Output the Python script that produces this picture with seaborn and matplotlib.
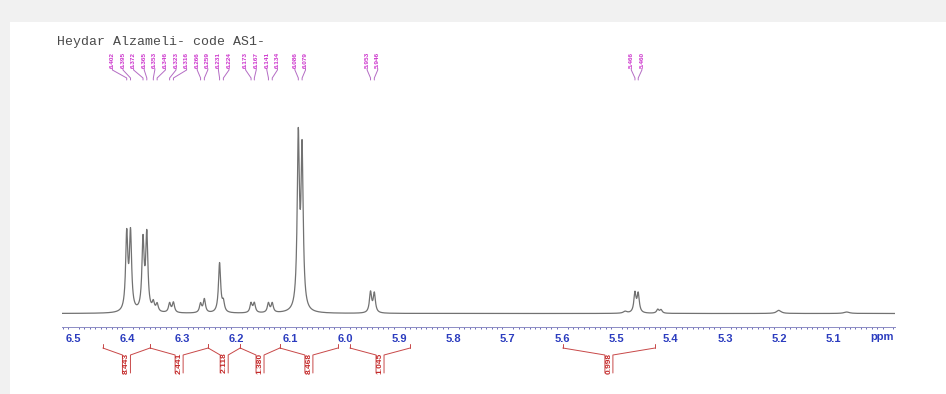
import numpy as np
import pandas as pd
import matplotlib
matplotlib.use("Agg")
import matplotlib.pyplot as plt
import seaborn as sns
from matplotlib.ticker import FixedLocator, MultipleLocator

# ---------------------------------------------------------------- data
title_text = "Heydar Alzameli- code AS1-"

# resonances: position (ppm), observed height (tallest = 100), half width (ppm)
peak_ppm = [6.402, 6.395, 6.372, 6.365, 6.353, 6.346, 6.323, 6.316,
            6.266, 6.259, 6.231, 6.224, 6.173, 6.167, 6.141, 6.134,
            6.086, 6.079, 5.953, 5.946, 5.484, 5.466, 5.460, 5.424,
            5.418, 5.201, 5.076]
peak_height = [45.7, 46.2, 42.5, 45.2, 7.5, 5.9, 6.0, 6.3,
               5.9, 8.1, 27.4, 8.1, 6.1, 6.1, 6.0, 6.0,
               100.0, 93.5, 12.2, 11.6, 1.3, 12.0, 11.6, 2.4,
               2.2, 1.7, 0.8]
peak_hw = [0.0024] * 20 + [0.004, 0.0024, 0.0024, 0.0026,
                           0.0026, 0.005, 0.006]

# peak-picking labels
pick_labels = ["6.402", "6.395", "6.372", "6.365", "6.353", "6.346",
               "6.323", "6.316", "6.266", "6.259", "6.231", "6.224",
               "6.173", "6.167", "6.141", "6.134", "6.086", "6.079",
               "5.953", "5.946", "5.466", "5.460"]

# integration regions (ppm) and integral values
int_left = [6.446, 6.359, 6.252, 6.193, 6.120, 5.991, 5.599]
int_right = [6.359, 6.252, 6.193, 6.120, 6.013, 5.880, 5.429]
int_values = ["8.443", "2.441", "2.118", "1.380", "8.468", "1.045", "0.998"]

tick_values = [6.5, 6.4, 6.3, 6.2, 6.1, 6.0, 5.9, 5.8, 5.7, 5.6, 5.5,
               5.4, 5.3, 5.2, 5.1, 5.0]
tick_labels = ["6.5", "6.4", "6.3", "6.2", "6.1", "6.0", "5.9", "5.8",
               "5.7", "5.6", "5.5", "5.4", "5.3", "5.2", "5.1", ""]

# ---------------------------------------------------------------- spectrum
ppm_grid = np.arange(4.985, 6.525, 0.0002)
pos = np.array(peak_ppm)
hw = np.array(peak_hw)


def lorentz(x, p, w):
    return 1.0 / (1.0 + ((x - p) / w) ** 2)


# amplitudes chosen so the summed trace reaches the observed heights
M = lorentz(pos[:, None], pos[None, :], hw[None, :])
amps = np.linalg.solve(M, np.array(peak_height))
spectrum = (amps[None, :] * lorentz(ppm_grid[:, None], pos[None, :], hw[None, :])).sum(axis=1)
spec_df = pd.DataFrame({"ppm": ppm_grid, "intensity": spectrum})

# ---------------------------------------------------------------- figure
sns.set_theme(style="white")
plt.rcParams["font.family"] = ["Liberation Sans", "DejaVu Sans"]

W, H = 946, 394
fig = plt.figure(figsize=(W / 100, H / 100), dpi=100)
fig.patch.set_facecolor("#f1f1f1")

# white sheet
sheet = fig.add_axes([10 / W, 0, 1 - 10 / W, 1 - 22 / H])
sheet.set_facecolor("white")
sheet.set_xticks([])
sheet.set_yticks([])
for s in sheet.spines.values():
    s.set_visible(False)


def px_axes(l, t, r, b):
    return fig.add_axes([l / W, 1 - b / H, (r - l) / W, (b - t) / H])


X_LEFT, X_RIGHT = 6.5212, 4.9871
PX_L, PX_R = 62, 895

# main spectrum axes
ax = px_axes(PX_L, 120, PX_R, 327)
ax.patch.set_alpha(0)
sns.lineplot(data=spec_df, x="ppm", y="intensity", ax=ax, color="#727272",
             linewidth=0.9, estimator=None)
ax.set_xlim(X_LEFT, X_RIGHT)
ax.set_ylim(-7.26, 104.0)
ax.set_xlabel("")
ax.set_ylabel("")
ax.set_yticks([])
for side in ("left", "right", "top"):
    ax.spines[side].set_visible(False)
ax.spines["bottom"].set_color("#8c8cc4")
ax.spines["bottom"].set_linewidth(0.7)
ax.xaxis.set_major_locator(FixedLocator(tick_values))
ax.set_xticklabels(tick_labels)
ax.xaxis.set_minor_locator(MultipleLocator(0.01))
ax.tick_params(axis="x", which="major", direction="out", length=3.2,
               width=0.8, color="#4a4aa8", pad=1.5, labelsize=8,
               labelcolor="#2b3cbf")
ax.tick_params(axis="x", which="minor", direction="out", length=1.5,
               width=0.7, color="#6a6ab8", bottom=True)
for lbl in ax.get_xticklabels():
    lbl.set_fontweight("bold")
fig.text(882 / W, 1 - 337 / H, "ppm", ha="center", va="center",
         fontsize=8, fontweight="bold", color="#2b3cbf")

# title
fig.text(57 / W, 1 - 42 / H, title_text, ha="left", va="center",
         fontsize=9.5, family="Liberation Mono", color="#4a4a4a")

# peak labels above the trace
lab_ax = px_axes(PX_L, 40, PX_R, 100)
lab_ax.set_xlim(X_LEFT, X_RIGHT)
lab_ax.set_ylim(100, 40)
lab_ax.axis("off")

pick_ppm = [float(s) for s in pick_labels]
gap = 10.6 / ((PX_R - PX_L) / (X_LEFT - X_RIGHT))


def spread(positions, step):
    groups = [[p] for p in positions]
    changed = True
    while changed:
        changed = False
        out = [groups[0]]
        for g in groups[1:]:
            prev = out[-1]
            prev_end = np.mean(prev) - (len(prev) - 1) * step / 2
            g_start = np.mean(g) + (len(g) - 1) * step / 2
            if prev_end - g_start < step:
                out[-1] = prev + g
                changed = True
            else:
                out.append(g)
        groups = out
    placed = []
    for g in groups:
        c, n = np.mean(g), len(g)
        placed += [c + (n - 1) * step / 2 - i * step for i in range(n)]
    return placed


label_x = spread(pick_ppm, gap)
for txt, px_, lx in zip(pick_labels, pick_ppm, label_x):
    lab_ax.text(lx, 67.5, txt, rotation=90, ha="center", va="bottom",
                fontsize=4.6, fontweight="bold", color="#cc33cc")
    lab_ax.plot([lx, lx, px_, px_], [68.5, 70, 78, 80], color="#b46cc4",
                linewidth=0.7)

# integrals below the axis
int_ax = px_axes(PX_L, 338, PX_R, 380)
int_ax.set_xlim(X_LEFT, X_RIGHT)
int_ax.set_ylim(380, 338)
int_ax.axis("off")
box_half = 4.0 / ((PX_R - PX_L) / (X_LEFT - X_RIGHT))
red = "#c84848"
for l, r, v in zip(int_left, int_right, int_values):
    c = (l + r) / 2
    int_ax.plot([l, l], [343.5, 348], color=red, lw=0.7)
    int_ax.plot([r, r], [343.5, 348], color=red, lw=0.7)
    int_ax.plot([l, c + box_half, c + box_half], [348, 355, 373],
                color=red, lw=0.7)
    int_ax.plot([r, c - box_half, c - box_half], [348, 355, 373],
                color=red, lw=0.7)
    int_ax.text(c, 363, v, rotation=90, ha="center", va="center",
                fontsize=6.0, fontweight="bold", color="#c42a2a")

fig.savefig("out.png", dpi=100)
